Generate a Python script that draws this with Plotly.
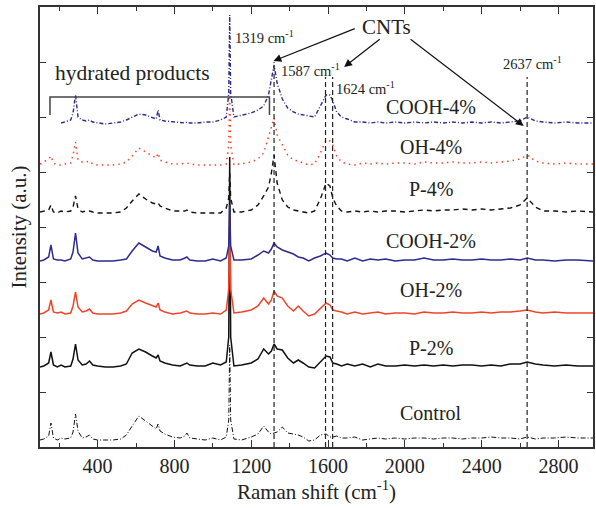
import plotly.graph_objects as go

# Raman shift grid (cm-1)
shift = [100, 120, 145, 157, 170, 190, 210, 230, 260, 272,
         285, 298, 320, 340, 358, 375, 400, 440, 480, 520,
         550, 580, 615, 650, 685, 705, 715, 725, 750, 790,
         830, 855, 865, 880, 920, 960, 1000, 1040, 1070, 1083,
         1088, 1093, 1110, 1150, 1200, 1235, 1265, 1290, 1305, 1319,
         1335, 1362, 1390, 1420, 1445, 1470, 1500, 1530, 1560, 1590,
         1610, 1625, 1645, 1670, 1700, 1740, 1780, 1820, 1860, 1900,
         1950, 2000, 2050, 2100, 2150, 2200, 2250, 2300, 2350, 2400,
         2450, 2500, 2550, 2600, 2637, 2680, 2720, 2780, 2840, 2900,
         2980]

control = [0, 1, 4, 17, 2, 0, 2, 1, 2, 8,
           26, 9, 2, 3, 5, 1, 0, 0, 0, 1,
           5, 14, 24, 19, 14, 11, 16, 9, 6, 3,
           2, 4, 7, 2, 1, 0, 2, 0, 3, 20,
           95, 20, 1, 0, 3, 6, 14, 8, 6, 7,
           8, 13, 7, 6, 5, 3, -1, 0, 5, 6,
           3, 3, 4, 2, 2, 3, 0, 1, 2, 1,
           2, 1, 2, 2, 1, 2, 2, 1, 2, 2,
           3, 2, 2, 1, 3, 1, 2, 2, 3, 2,
           2]

p_2 = [0, 1, 4, 15, 2, 0, 2, 0, 1, 8,
       23, 7, 2, 3, 6, 2, 1, 0, 0, 1,
       3, 14, 18, 15, 11, 9, 12, 6, 4, 2,
       1, 3, 4, 2, 1, 1, 4, 2, 5, 30,
       210, 30, 1, 2, 4, 8, 18, 13, 16, 23,
       18, 17, 9, 4, 7, 4, 0, -1, 5, 11,
       10, 4, 3, 1, 3, 1, 3, 0, 3, 1,
       1, 2, 1, 2, 1, 2, 1, 2, 2, 1,
       2, 1, 3, 3, 5, 3, 2, 1, 2, 1,
       1]

oh_2 = [0, 1, 4, 14, 2, 1, 2, 0, 1, 8,
        22, 7, 2, 3, 5, 1, 0, 0, 0, 1,
        3, 10, 14, 11, 8, 7, 11, 4, 2, 0,
        1, 2, 3, 1, 0, 0, 1, 0, 4, 25,
        99, 25, 1, 2, 4, 8, 16, 10, 14, 23,
        18, 16, 8, 3, 8, 3, -2, 0, 6, 11,
        9, 4, 3, 2, 0, 2, 0, 1, 2, 0,
        1, 1, 0, 2, 1, 1, 2, 1, 1, 2,
        1, 2, 2, 3, 4, 2, 1, 2, 1, 1,
        1]

cooh_2 = [0, 1, 4, 16, 2, 1, 1, 0, 2, 9,
          28, 8, 2, 3, 4, 1, 0, 0, 0, 1,
          2, 10, 18, 14, 10, 9, 15, 5, 3, 1,
          1, 3, 4, 1, 0, 0, 2, 0, 3, 15,
          56, 15, 1, 1, 2, 6, 10, 8, 12, 18,
          14, 11, 9, 7, 4, 3, 0, 3, 5, 8,
          6, 3, 2, 2, 0, 3, 0, 2, 1, 2,
          0, 1, 1, 3, 1, 1, 2, 1, 1, 2,
          1, 1, 2, 1, 3, 1, 1, 0, 1, 1,
          0]

p_4 = [1, 2, 3, 8, 1, 0, 2, 1, 2, 6,
       17, 4, 1, 2, 2, 1, 0, 0, 0, 1,
       5, 12, 19, 14, 10, 9, 10, 7, 5, 2,
       2, 2, 3, 1, 0, 0, 0, 0, 5, 15,
       40, 15, 1, 1, 3, 8, 17, 26, 40, 58,
       30, 13, 6, 3, 2, 1, 0, 2, 14, 30,
       27, 15, 7, 2, 1, 2, 1, 2, 1, 2,
       2, 1, 2, 3, 2, 3, 3, 4, 3, 4,
       3, 4, 5, 8, 15, 6, 2, 2, 1, 2,
       1]

oh_4 = [1, 3, 6, 9, 2, 0, 0, 1, 2, 10,
        23, 5, 3, 3, 4, 1, 0, 0, 0, 1,
        3, 9, 17, 13, 9, 7, 12, 5, 3, 1,
        1, 2, 2, 1, 0, 0, 0, 0, 1, 20,
        75, 20, 0, 1, 3, 6, 12, 28, 38, 47,
        30, 20, 10, 5, 4, 2, 0, 1, 12, 25,
        24, 20, 9, 3, 1, 0, 2, 1, 2, 1,
        2, 2, 1, 3, 2, 2, 3, 2, 2, 3,
        2, 3, 4, 6, 10, 4, 2, 1, 2, 1,
        1]

cooh_4 = [None, None, None, None, None, None, 0, 1, 3, 10,
          28, 6, 3, 2, 3, 1, 0, -1, 0, 1,
          3, 6, 9, 8, 5, 4, 13, 3, 2, 1,
          0, 0, 1, 0, 0, 1, 1, 3, 6, 30,
          108, 30, 6, 8, 10, 13, 17, 28, 42, 58,
          40, 24, 15, 11, 9, 8, 7, 6, 17, 28,
          28, 22, 11, 6, 4, 1, 1, 0, 1, 0,
          1, 0, 1, 0, 1, 0, 1, 0, 1, 0,
          1, 0, 1, 2, 6, 2, 1, 0, 1, 0,
          0]

names = ["Control", "P-2%", "OH-2%", "COOH-2%", "P-4%", "OH-4%", "COOH-4%"]
series = [control, p_2, oh_2, cooh_2, p_4, oh_4, cooh_4]
offsets = [7, 80, 133, 186, 234, 282, 324]
label_y = [34, 99, 157, 206, 258, 300, 340]

BLUE = "#2E2A8F"
RED = "#F0442A"
BLACK = "#111111"
styles = [
    dict(color=BLACK, width=1.0, dash="5px,2px,1px,2px"),
    dict(color=BLACK, width=1.5, dash="solid"),
    dict(color=RED, width=1.5, dash="solid"),
    dict(color=BLUE, width=1.5, dash="solid"),
    dict(color=BLACK, width=1.4, dash="5px,4px"),
    dict(color=RED, width=1.5, dash="1.5px,4px"),
    dict(color=BLUE, width=1.4, dash="4px,2px,1px,2px"),
]

cnt_peaks = [1319, 1587, 1624, 2637]
cnt_tops = [385, 370, 370, 370]

fig = go.Figure()
for name, vals, off, st in zip(names, series, offsets, styles):
    yv = [None if v is None else v + off for v in vals]
    fig.add_trace(go.Scatter(x=shift, y=yv, mode="lines", name=name,
                             line=st, connectgaps=False, showlegend=False))

FONT = "Liberation Serif"
TXT = "#222222"

# reference dashed lines at CNT peaks
for xp, top in zip(cnt_peaks, cnt_tops):
    fig.add_shape(type="line", x0=xp, x1=xp, y0=0, y1=top, xref="x", yref="y",
                  line=dict(color="#222222", width=1.2, dash="5px,3px"))

# hydrated products bracket
fig.add_shape(type="path", xref="x", yref="y",
              path="M 152,332 L 152,350 L 1295,350 L 1295,332",
              line=dict(color="#444444", width=1.5))

ann = []
for name, yl in zip(names, label_y):
    ann.append(dict(x=2135, y=yl, text=name, showarrow=False,
                    font=dict(family=FONT, size=20, color=TXT),
                    xanchor="center", yanchor="middle"))

ann.append(dict(x=167, y=374, text="hydrated products", showarrow=False,
                font=dict(family=FONT, size=21.5, color=TXT),
                xanchor="left", yanchor="middle"))
ann.append(dict(x=1903, y=420, text="CNTs", showarrow=False,
                font=dict(family=FONT, size=21, color=TXT),
                xanchor="center", yanchor="middle"))

peak_labels = [(1103, 410, "1319 cm<sup>-1</sup>"),
               (1347, 377, "1587 cm<sup>-1</sup>"),
               (1632, 359, "1624 cm<sup>-1</sup>"),
               (2500, 384, "2637 cm<sup>-1</sup>")]
for xl, yl, t in peak_labels:
    ann.append(dict(x=xl, y=yl, text=t, showarrow=False,
                    font=dict(family=FONT, size=14.5, color=TXT),
                    xanchor="left", yanchor="middle"))

arrows = [((1316, 386), (1747, 419)),
          ((1684, 380), (1877, 409)),
          ((2619, 321), (2022, 409))]
for (tx, ty), (sx, sy) in arrows:
    ann.append(dict(x=tx, y=ty, ax=sx, ay=sy, xref="x", yref="y",
                    axref="x", ayref="y", text="", showarrow=True,
                    arrowhead=2, arrowsize=1.3, arrowwidth=1.2,
                    arrowcolor="#111111"))

fig.update_layout(
    width=596, height=508,
    margin=dict(l=40, r=1, t=7, b=61),
    paper_bgcolor="white", plot_bgcolor="white",
    annotations=ann,
    font=dict(family=FONT, color=TXT),
)
fig.update_xaxes(
    range=[100, 2980], tick0=0, dtick=400, ticks="inside", ticklen=7,
    tickwidth=1.2, tickcolor="#333333",
    minor=dict(ticks="inside", ticklen=4, dtick=200, tick0=0, tickcolor="#333333"),
    showline=True, linecolor="#333333", linewidth=1.5, mirror="ticks",
    showgrid=False, zeroline=False,
    tickfont=dict(family=FONT, size=20, color=TXT),
    title=dict(text="Raman shift (cm<sup>-1</sup>)",
               font=dict(family=FONT, size=21, color=TXT), standoff=6),
)
fig.update_yaxes(
    range=[0, 440], tick0=0, dtick=55, ticks="inside", ticklen=6,
    tickwidth=1.2, tickcolor="#333333", showticklabels=False,
    showline=True, linecolor="#333333", linewidth=1.5, mirror="ticks",
    showgrid=False, zeroline=False,
    title=dict(text="Intensity (a.u.)",
               font=dict(family=FONT, size=21, color=TXT), standoff=6),
)

fig.write_html("out.html", config={"displayModeBar": False},
               post_script="document.body.style.margin='0px';")
